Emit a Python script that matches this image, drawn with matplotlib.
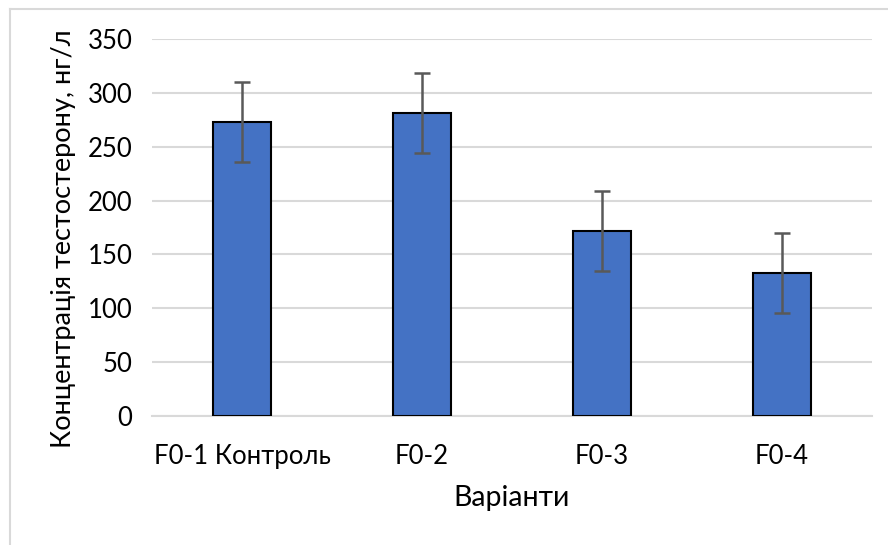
import numpy as np
import matplotlib.pyplot as plt
from matplotlib.lines import Line2D

categories = ['F0-1 Контроль', 'F0-2', 'F0-3', 'F0-4']
values = [273, 281, 172, 133]
errors = [37, 37, 37, 37]

plt.rcParams['font.family'] = ['Lato', 'DejaVu Sans']

fig = plt.figure(figsize=(8.88, 5.45), dpi=100)
ax = fig.add_axes([152/888, 1-416/545, 720/888, 377/545])

x = np.arange(len(categories))
ax.bar(x, values, width=0.32, color='#4472C4', edgecolor='black', linewidth=1.5, zorder=3)
ax.errorbar(x, values, yerr=errors, fmt='none', ecolor='#595959', elinewidth=1.8,
            capsize=6, capthick=1.8, zorder=4)

ax.set_xlim(-0.5, len(categories) - 0.5)
ax.set_ylim(0, 350)
ax.set_yticks(np.arange(0, 351, 50))
ax.set_xticks(x)
ax.set_xticklabels(categories)
ax.tick_params(axis='both', length=0, labelsize=18.5, colors='black')
ax.tick_params(axis='x', pad=20)
ax.tick_params(axis='y', pad=14)
ax.grid(axis='y', color='#d9d9d9', linewidth=1.5, zorder=0)
for s in ['top', 'right', 'left']:
    ax.spines[s].set_visible(False)
ax.spines['bottom'].set_color('#d9d9d9')
ax.spines['bottom'].set_linewidth(1.5)

ax.set_xlabel('Варіанти', fontsize=20.5, labelpad=12)
ax.set_ylabel('Концентрація тестостерону, нг/л', fontsize=19.5, labelpad=12)
ax.yaxis.set_label_coords(-0.105, 0.47)

# chart frame (top and left edges visible)
fig.add_artist(Line2D([10/888, 10/888], [0, 1-9/545], transform=fig.transFigure, color='#d9d9d9', lw=1.5))
fig.add_artist(Line2D([10/888, 1], [1-9/545, 1-9/545], transform=fig.transFigure, color='#d9d9d9', lw=1.5))

fig.savefig('out.png', dpi=100)
